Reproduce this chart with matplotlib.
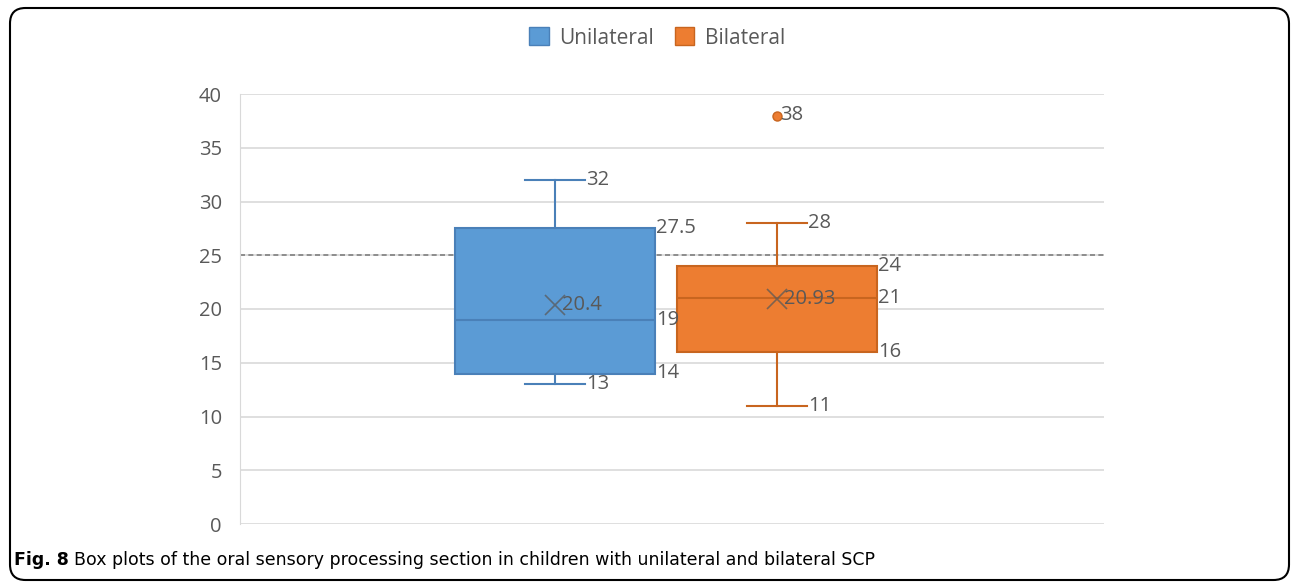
import matplotlib.pyplot as plt
from matplotlib.patches import FancyBboxPatch, Patch

groups = ["Unilateral", "Bilateral"]
whislo = [13, 11]
q1 = [14, 16]
med = [19, 21]
q3 = [27.5, 24]
whishi = [32, 28]
means = [20.4, 20.93]
fliers = [[], [38]]
cutoff = 25

fill_colors = ["#5B9BD5", "#ED7D31"]
edge_colors = ["#4A80B8", "#C8651F"]
text_color = "#595959"

plt.rcParams["font.family"] = ["Open Sans", "DejaVu Sans"]

fig = plt.figure(figsize=(12.92, 5.82), dpi=100)
ax = fig.add_axes([240 / 1292, 1 - 524 / 582, 864 / 1292, 430 / 582])

pos = [0.3646, 0.6215]
box_w = 0.2315
cap_w = 0.069

stats = []
for i in range(len(groups)):
    stats.append(dict(label=groups[i], whislo=whislo[i], q1=q1[i], med=med[i],
                      q3=q3[i], whishi=whishi[i], mean=means[i], fliers=fliers[i]))

for i, s in enumerate(stats):
    ax.bxp([s], positions=[pos[i]], widths=box_w, capwidths=cap_w, patch_artist=True,
           showmeans=True, manage_ticks=False,
           boxprops=dict(facecolor=fill_colors[i], edgecolor=edge_colors[i], linewidth=1.5),
           medianprops=dict(color=edge_colors[i], linewidth=1.5),
           whiskerprops=dict(color=edge_colors[i], linewidth=1.5),
           capprops=dict(color=edge_colors[i], linewidth=1.5),
           meanprops=dict(marker="x", markeredgecolor=text_color, markersize=14,
                          markeredgewidth=1.2, alpha=0.75),
           flierprops=dict(marker="o", markerfacecolor=fill_colors[i],
                           markeredgecolor=edge_colors[i], markersize=6.5))

# value labels
lab = dict(fontsize=14.5, color=text_color, va="center", ha="left", textcoords="offset points")
for i in range(len(groups)):
    xc = pos[i]
    xb = xc + box_w / 2
    xcap = xc + cap_w / 2
    ax.annotate(f"{whishi[i]:g}", (xcap, whishi[i]), xytext=(1, 0), **lab)
    ax.annotate(f"{whislo[i]:g}", (xcap, whislo[i]), xytext=(1, 0), **lab)
    ax.annotate(f"{q3[i]:g}", (xb, q3[i]), xytext=(1, 0), **lab)
    ax.annotate(f"{med[i]:g}", (xb, med[i]), xytext=(1, 0), **lab)
    ax.annotate(f"{q1[i]:g}", (xb, q1[i]), xytext=(1, 0), **lab)
    ax.annotate(f"{means[i]:g}", (xc, means[i]), xytext=(5, 0), **lab)
    for f in fliers[i]:
        ax.annotate(f"{f:g}", (xc, f), xytext=(2, 0), **lab)

ax.axhline(cutoff, color="#7f7f7f", linestyle=(0, (3, 2)), linewidth=1.2, zorder=1)

ax.set_xlim(0, 1)
ax.set_ylim(0, 40)
ax.set_yticks(range(0, 41, 5))
ax.set_xticks([])
ax.grid(axis="y", color="#d9d9d9", linewidth=1.2, zorder=0)
ax.set_axisbelow(True)
for side in ["top", "right", "bottom"]:
    ax.spines[side].set_visible(False)
ax.spines["left"].set_color("#d9d9d9")
ax.tick_params(axis="y", length=0, pad=13, labelsize=14.5, labelcolor=text_color)

handles = [Patch(facecolor=fill_colors[i], edgecolor=edge_colors[i], label=groups[i])
           for i in range(len(groups))]
fig.legend(handles=handles, loc="center", bbox_to_anchor=(657 / 1292, 1 - 38 / 582),
           ncol=2, frameon=False, fontsize=15, labelcolor=text_color,
           handlelength=0.95, handleheight=0.95, handletextpad=0.5, columnspacing=1.0)

# caption
cap_font = ["Liberation Sans Narrow", "DejaVu Sans"]
t = fig.text(14 / 1292, 1 - 560 / 582, "Fig. 8", fontsize=12.5, fontweight="bold",
             family=cap_font, va="center", ha="left")
fig.canvas.draw()
bb = t.get_window_extent()
fig.text((bb.x1 + 5) / 1292, 1 - 560 / 582,
         "Box plots of the oral sensory processing section in children with unilateral and bilateral SCP",
         fontsize=12.5, family=cap_font, va="center", ha="left")

# rounded outer frame
frame = FancyBboxPatch((10 / 1292, 1 - 580 / 582), 1279 / 1292, 572 / 582,
                       boxstyle="round,pad=0,rounding_size=0.012", transform=fig.transFigure,
                       facecolor="none", edgecolor="black", linewidth=1.5, mutation_aspect=1292 / 582)
fig.patches.append(frame)

fig.savefig("out.png", dpi=100)
